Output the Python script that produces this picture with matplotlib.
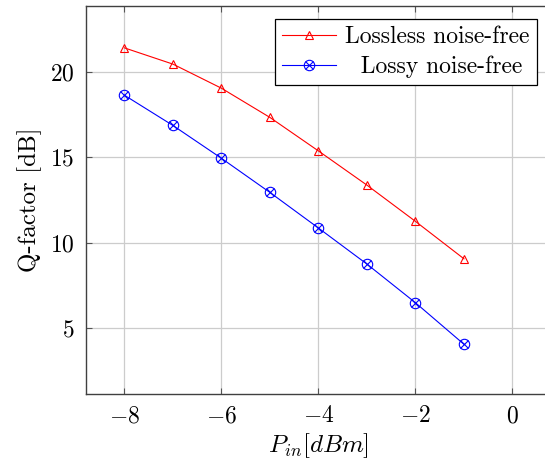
"""Q-factor vs input power, lossless vs lossy noise-free."""

import matplotlib
matplotlib.use("Agg")
import matplotlib.pyplot as plt

plt.rcParams["font.family"] = "serif"
plt.rcParams["font.serif"] = ["cmr10", "DejaVu Serif"]
plt.rcParams["mathtext.fontset"] = "cm"
plt.rcParams["axes.formatter.use_mathtext"] = True

p_in = [-8, -7, -6, -5, -4, -3, -2, -1]
q_lossless = [21.4, 20.45, 19.04, 17.33, 15.37, 13.37, 11.25, 9.06]
q_lossy = [18.63, 16.86, 14.94, 12.94, 10.86, 8.75, 6.49, 4.06]
x_ticks = [-8, -6, -4, -2, 0]
y_ticks = [5, 10, 15, 20]

fig = plt.figure(figsize=(5.45, 4.63), dpi=100)
ax = fig.add_axes([0.1572, 0.149, 0.8543, 0.838])

red, = ax.plot(p_in, q_lossless, color="red", lw=0.8, marker="^", markersize=6,
               markerfacecolor="none", markeredgecolor="red", markeredgewidth=0.8, zorder=3)
blue, = ax.plot(p_in, q_lossy, color="blue", lw=0.8, marker="o", markersize=7.5,
                markerfacecolor="none", markeredgecolor="blue", markeredgewidth=0.8, zorder=3)
blue_x, = ax.plot(p_in, q_lossy, color="blue", lw=0, marker="x", markersize=5.2,
                  markeredgewidth=0.8, zorder=3)

ax.set_xlim(-8.8, 0.8)
ax.set_ylim(1.15, 23.85)
ax.set_xticks(x_ticks)
ax.set_yticks(y_ticks)
ax.set_xticklabels([f"${v}$" if v >= 0 else f"$-{-v}$" for v in x_ticks])
ax.set_yticklabels([f"${v}$" for v in y_ticks])
ax.tick_params(direction="in", length=4, width=0.8, color="#555555", labelsize=17,
               top=True, right=True, pad=8)
ax.grid(True, color="#cccccc", lw=0.9)
ax.set_axisbelow(True)
for s in ax.spines.values():
    s.set_color("#404040")
    s.set_linewidth(1.0)

ax.set_xlabel(r"$P_{in}[dBm]$", fontsize=18, labelpad=3)
ax.set_ylabel("Q-factor [dB]", fontsize=18, labelpad=6)

leg = ax.legend([red, (blue, blue_x)], ["Lossless noise-free", "  Lossy noise-free"],
                loc="upper right", bbox_to_anchor=(0.969, 0.967), fontsize=17,
                fancybox=False, framealpha=1, edgecolor="black", handlelength=2.3,
                borderpad=0.3, labelspacing=0.32, handletextpad=0.4, borderaxespad=0)
leg.get_frame().set_linewidth(0.9)

fig.savefig("out.png", dpi=100)
